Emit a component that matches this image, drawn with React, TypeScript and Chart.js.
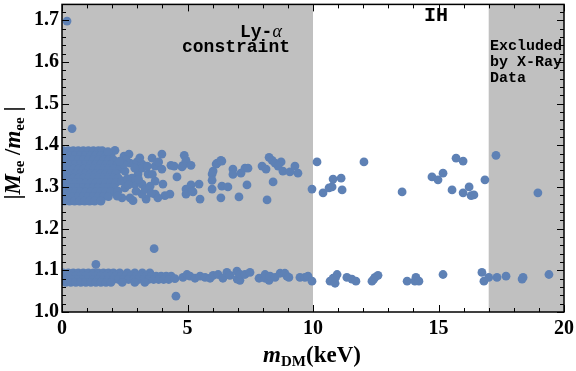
import React, { useEffect, useRef } from 'react';
import { Chart, registerables } from 'chart.js';
Chart.register(...registerables);

const xTicks = [0, 5, 10, 15, 20];
const yTicks = [1.0, 1.1, 1.2, 1.3, 1.4, 1.5, 1.6, 1.7];
const xRange = [0, 20];
const yRange = [1.0, 1.738];
const shadedRegions: [number, number][] = [[0, 10], [17, 20]];

// dense upper cluster rows: [y, xs]
const upperDenseRows: [number, number[]][] = [
  [1.387, [0.05, 0.25, 0.45, 0.65, 0.85, 1.05, 1.25, 1.45, 1.6]],
  [1.376, [0.15, 0.35, 0.55, 0.75, 0.95, 1.15, 1.35, 1.55, 1.75, 1.95]],
  [1.365, [0.05, 0.25, 0.45, 0.65, 0.85, 1.05, 1.25, 1.45, 1.65, 1.85, 2.05]],
  [1.354, [0.15, 0.35, 0.55, 0.75, 0.95, 1.15, 1.35, 1.55, 1.75, 1.95, 2.2]],
  [1.343, [0.05, 0.25, 0.45, 0.65, 0.85, 1.05, 1.25, 1.45, 1.65, 1.85, 2.05, 2.3]],
  [1.332, [0.15, 0.35, 0.55, 0.75, 0.95, 1.15, 1.35, 1.55, 1.75, 1.95, 2.15]],
  [1.321, [0.05, 0.25, 0.45, 0.65, 0.85, 1.05, 1.25, 1.45, 1.65, 1.85, 2.05, 2.25]],
  [1.31, [0.15, 0.35, 0.55, 0.75, 0.95, 1.15, 1.35, 1.55, 1.75, 1.95, 2.15]],
  [1.299, [0.05, 0.25, 0.45, 0.65, 0.85, 1.05, 1.25, 1.45, 1.65, 1.85, 2.05]],
  [1.288, [0.15, 0.35, 0.55, 0.75, 0.95, 1.15, 1.35, 1.55, 1.75, 1.95]],
  [1.277, [0.05, 0.25, 0.45, 0.65, 0.85, 1.05, 1.25, 1.45, 1.65, 1.85]],
  [1.266, [0.1, 0.3, 0.5, 0.7, 0.9, 1.1, 1.3, 1.55]],
];

const upperScatter: [number, number][] = [
  [2.11, 1.388], [1.83, 1.385], [2.47, 1.374], [2.67, 1.379], [2.71, 1.357], [2.99, 1.36], [3.19, 1.355],
  [3.59, 1.369], [3.98, 1.379], [3.71, 1.35], [3.98, 1.343], [3.43, 1.331], [3.71, 1.314], [4.02, 1.307],
  [4.3, 1.283], [4.1, 1.279], [3.35, 1.271], [2.83, 1.267], [2.71, 1.274], [3.19, 1.283], [3.71, 1.283],
  [3.82, 1.274], [2.39, 1.274], [2.23, 1.29], [2.91, 1.307], [3.19, 1.307], [3.31, 1.295], [3.03, 1.331],
  [2.79, 1.321], [2.51, 1.338], [3.19, 1.345], [2.39, 1.314], [2.51, 1.298], [3.51, 1.302],
  [2.55, 1.365], [2.9, 1.345], [3.4, 1.35], [2.6, 1.32], [2.95, 1.29], [3.55, 1.285], [2.45, 1.355], [3.1, 1.37],
  [2.3, 1.362], [2.65, 1.305], [3.05, 1.318], [3.6, 1.33], [2.2, 1.278], [3.85, 1.36],
  [4.34, 1.352], [4.47, 1.35], [4.58, 1.324], [4.82, 1.352], [4.78, 1.348], [4.87, 1.376], [4.94, 1.364],
  [5.14, 1.352], [4.94, 1.295], [4.94, 1.283], [5.14, 1.305], [5.18, 1.29], [5.22, 1.288], [5.46, 1.307],
  [5.5, 1.271], [5.98, 1.331], [6.02, 1.338], [6.14, 1.355], [6.18, 1.357], [6.33, 1.364], [6.37, 1.362],
  [5.98, 1.316], [5.98, 1.295], [6.37, 1.302], [6.61, 1.3], [6.33, 1.274], [6.81, 1.343], [6.81, 1.33],
  [7.13, 1.333], [7.29, 1.345], [7.41, 1.345], [7.37, 1.305], [7.05, 1.276], [8.17, 1.269], [8.25, 1.371],
  [8.37, 1.364], [7.97, 1.35], [8.13, 1.343], [8.49, 1.357], [8.73, 1.36], [8.61, 1.35], [8.8, 1.338],
  [9.08, 1.336], [9.28, 1.35], [9.4, 1.333], [8.41, 1.312], [9.96, 1.295], [10.16, 1.36], [10.4, 1.286],
  [10.64, 1.298], [10.76, 1.3], [10.8, 1.319], [11.12, 1.321], [11.16, 1.293], [12.03, 1.36], [13.55, 1.288],
  [14.74, 1.324], [14.98, 1.317], [15.18, 1.333], [15.54, 1.293], [15.7, 1.369], [15.98, 1.362],
  [15.98, 1.286], [16.22, 1.3], [16.3, 1.279], [16.41, 1.281], [16.85, 1.317], [17.29, 1.376], [18.96, 1.286],
];

const lowerDenseRows: [number, number[]][] = [
  [1.094, [0.05, 0.25, 0.45, 0.65, 0.85, 1.05, 1.25, 1.45, 1.65, 1.85, 2.05, 2.3, 2.6, 2.9, 3.2, 3.5]],
  [1.086, [0.15, 0.35, 0.55, 0.75, 0.95, 1.15, 1.35, 1.55, 1.75, 1.95, 2.15, 2.35, 2.55, 2.75, 2.95, 3.15, 3.35, 3.55, 3.75, 3.95, 4.15, 4.35]],
  [1.078, [0.05, 0.25, 0.45, 0.65, 0.85, 1.05, 1.25, 1.45, 1.65, 1.85, 2.05, 2.25, 2.45, 2.65, 2.85, 3.05, 3.25, 3.45, 3.65, 3.85, 4.05, 4.25]],
  [1.071, [0.15, 0.35, 0.55, 0.75, 0.95, 1.15, 1.35, 1.55, 1.75, 1.95, 2.4, 2.9, 3.3]],
];

const lowerScatter: [number, number][] = [
  [4.5, 1.08], [4.82, 1.083], [4.98, 1.09], [5.1, 1.086], [5.3, 1.081], [5.5, 1.086], [5.7, 1.083],
  [5.9, 1.081], [6.02, 1.088], [6.22, 1.09], [6.41, 1.081], [6.57, 1.095], [6.69, 1.088], [6.97, 1.098],
  [6.98, 1.079], [7.09, 1.076], [7.1, 1.09], [7.29, 1.09], [7.49, 1.095], [7.85, 1.081], [8.09, 1.081],
  [8.09, 1.09], [8.25, 1.076], [8.29, 1.086], [8.49, 1.083], [8.69, 1.093], [8.88, 1.093], [8.96, 1.086],
  [9.04, 1.083], [9.48, 1.083], [9.68, 1.083], [9.8, 1.086], [9.96, 1.074], [10.68, 1.074], [10.8, 1.081],
  [10.88, 1.069], [10.96, 1.09], [10.9, 1.083], [11.35, 1.083], [11.55, 1.079], [11.71, 1.074],
  [12.35, 1.074], [12.47, 1.083], [12.59, 1.088], [12.42, 1.079], [13.75, 1.074], [14.1, 1.083],
  [14.06, 1.074], [14.22, 1.074], [15.18, 1.09], [16.73, 1.095], [16.81, 1.074], [17.0, 1.083],
  [17.33, 1.083], [17.69, 1.086], [18.33, 1.079], [18.37, 1.083], [19.4, 1.09],
];

const outliers: [number, number][] = [
  [0.2, 1.698], [0.4, 1.44], [1.35, 1.114], [3.67, 1.152], [4.54, 1.038],
];

const POINT_COLOR = '#5E81B5';
const SHADE = '#c0c0c0';
const SERIF = '"Liberation Serif", "Times New Roman", serif';
const MONO = '"Liberation Mono", "Courier New", monospace';

type Seg = { t: string; font: string; dy?: number };

function drawRich(ctx: CanvasRenderingContext2D, segs: Seg[], cx: number, baseY: number) {
  let total = 0;
  const widths = segs.map((s) => {
    ctx.font = s.font;
    const w = ctx.measureText(s.t).width;
    total += w;
    return w;
  });
  let x = cx - total / 2;
  segs.forEach((s, i) => {
    ctx.font = s.font;
    ctx.fillText(s.t, x, baseY + (s.dy || 0));
    x += widths[i];
  });
}

const framePlugin = {
  id: 'framePlugin',
  beforeDatasetsDraw(chart: any) {
    const { ctx, chartArea: a, scales } = chart;
    const xs = scales.x;
    ctx.save();
    ctx.fillStyle = SHADE;
    for (const [s, e] of shadedRegions) {
      const x0 = xs.getPixelForValue(s);
      const x1 = xs.getPixelForValue(e);
      ctx.fillRect(x0, a.top, x1 - x0, a.bottom - a.top);
    }
    ctx.restore();
  },
  afterDatasetsDraw(chart: any) {
    const { ctx, chartArea: a, scales } = chart;
    const xs = scales.x;
    const ys = scales.y;
    ctx.save();
    ctx.strokeStyle = '#000';
    ctx.lineWidth = 1;
    for (let i = 0; i <= 20; i++) {
      const px = Math.round(xs.getPixelForValue(i)) + 0.5;
      const len = i % 5 === 0 ? 7 : 4;
      ctx.beginPath();
      ctx.moveTo(px, a.bottom);
      ctx.lineTo(px, a.bottom - len);
      ctx.moveTo(px, a.top);
      ctx.lineTo(px, a.top + len);
      ctx.stroke();
    }
    for (let i = 0; i <= 36; i++) {
      const v = 1 + i * 0.02;
      if (v > yRange[1]) break;
      const py = Math.round(ys.getPixelForValue(v)) + 0.5;
      const len = i % 5 === 0 ? 7 : 4;
      ctx.beginPath();
      ctx.moveTo(a.left, py);
      ctx.lineTo(a.left + len, py);
      ctx.moveTo(a.right, py);
      ctx.lineTo(a.right - len, py);
      ctx.stroke();
    }
    ctx.lineWidth = 1.5;
    ctx.strokeRect(a.left, a.top, a.right - a.left, a.bottom - a.top);

    // annotations
    ctx.fillStyle = '#000';
    ctx.textAlign = 'left';
    ctx.textBaseline = 'alphabetic';
    ctx.font = `bold 18px ${MONO}`;
    ctx.fillText('Ly-', 240, 37);
    const w = ctx.measureText('Ly-').width;
    ctx.font = `italic 18px ${SERIF}`;
    ctx.fillText('α', 240 + w, 37);
    ctx.font = `bold 18px ${MONO}`;
    ctx.fillText('constraint', 182, 52);
    ctx.font = `bold 20px ${MONO}`;
    ctx.fillText('IH', 424, 21);
    ctx.font = `bold 15px ${MONO}`;
    ctx.fillText('Excluded', 490, 50);
    ctx.fillText('by X-Ray', 490, 66);
    ctx.fillText('Data', 490, 82);

    // x title
    drawRich(ctx, [
      { t: 'm', font: `bold italic 23px ${SERIF}` },
      { t: 'DM', font: `bold 15px ${SERIF}`, dy: 4 },
      { t: '(keV)', font: `bold 23px ${SERIF}` },
    ], 312, 362);

    // y title
    ctx.translate(20, 153);
    ctx.rotate(-Math.PI / 2);
    drawRich(ctx, [
      { t: '|', font: `bold 23px ${SERIF}` },
      { t: 'M', font: `bold italic 23px ${SERIF}` },
      { t: 'ee', font: `bold 15px ${SERIF}`, dy: 4 },
      { t: ' /', font: `bold 23px ${SERIF}` },
      { t: 'm', font: `bold italic 23px ${SERIF}` },
      { t: 'ee', font: `bold 15px ${SERIF}`, dy: 4 },
      { t: ' |', font: `bold 23px ${SERIF}` },
    ], 0, 0);
    ctx.restore();
  },
};

function rowsToPoints(rows: [number, number[]][]) {
  const out: { x: number; y: number }[] = [];
  for (const [y, xs] of rows) for (const x of xs) out.push({ x, y });
  return out;
}

export default function App() {
  const ref = useRef<HTMLCanvasElement>(null);
  useEffect(() => {
    document.body.style.margin = '0';
    const canvas = ref.current!;
    const pts = [
      ...rowsToPoints(upperDenseRows),
      ...upperScatter.map(([x, y]) => ({ x, y })),
      ...rowsToPoints(lowerDenseRows),
      ...lowerScatter.map(([x, y]) => ({ x, y })),
      ...outliers.map(([x, y]) => ({ x, y })),
    ];
    const tickFont = { family: SERIF, size: 20, weight: 'bold' as const };
    const chart = new Chart(canvas, {
      type: 'scatter',
      data: {
        datasets: [{
          data: pts,
          pointRadius: 4.4,
          pointHoverRadius: 4.4,
          pointBorderWidth: 0,
          pointBackgroundColor: POINT_COLOR,
          pointBorderColor: POINT_COLOR,
          backgroundColor: POINT_COLOR,
          borderColor: POINT_COLOR,
          clip: 0,
        } as any],
      },
      options: {
        animation: false,
        responsive: false,
        devicePixelRatio: 1,
        events: [],
        layout: { padding: { top: 3, right: 12, left: 0, bottom: 0 } },
        plugins: { legend: { display: false }, tooltip: { enabled: false } },
        scales: {
          x: {
            type: 'linear',
            min: xRange[0],
            max: xRange[1],
            grid: { display: false, drawTicks: false },
            border: { display: false },
            ticks: { font: tickFont, color: '#000', padding: 5, maxRotation: 0, autoSkip: false, callback: (v: any) => String(v) },
            afterBuildTicks: (s: any) => { s.ticks = xTicks.map((v) => ({ value: v })); },
            afterFit: (s: any) => { s.height = 59; s.paddingLeft = 0; s.paddingRight = 0; },
          },
          y: {
            type: 'linear',
            min: yRange[0],
            max: yRange[1],
            grid: { display: false, drawTicks: false },
            border: { display: false },
            ticks: { font: tickFont, color: '#000', padding: 3, autoSkip: false, callback: (v: any) => Number(v).toFixed(1) },
            afterBuildTicks: (s: any) => { s.ticks = yTicks.map((v) => ({ value: v })); },
            afterFit: (s: any) => { s.width = 62; s.paddingTop = 0; s.paddingBottom = 0; },
          },
        },
      } as any,
      plugins: [framePlugin],
    });
    return () => chart.destroy();
  }, []);
  return (
    <div style={{ width: 576, height: 371 }}>
      <canvas ref={ref} width={576} height={371} style={{ display: 'block' }} />
    </div>
  );
}
